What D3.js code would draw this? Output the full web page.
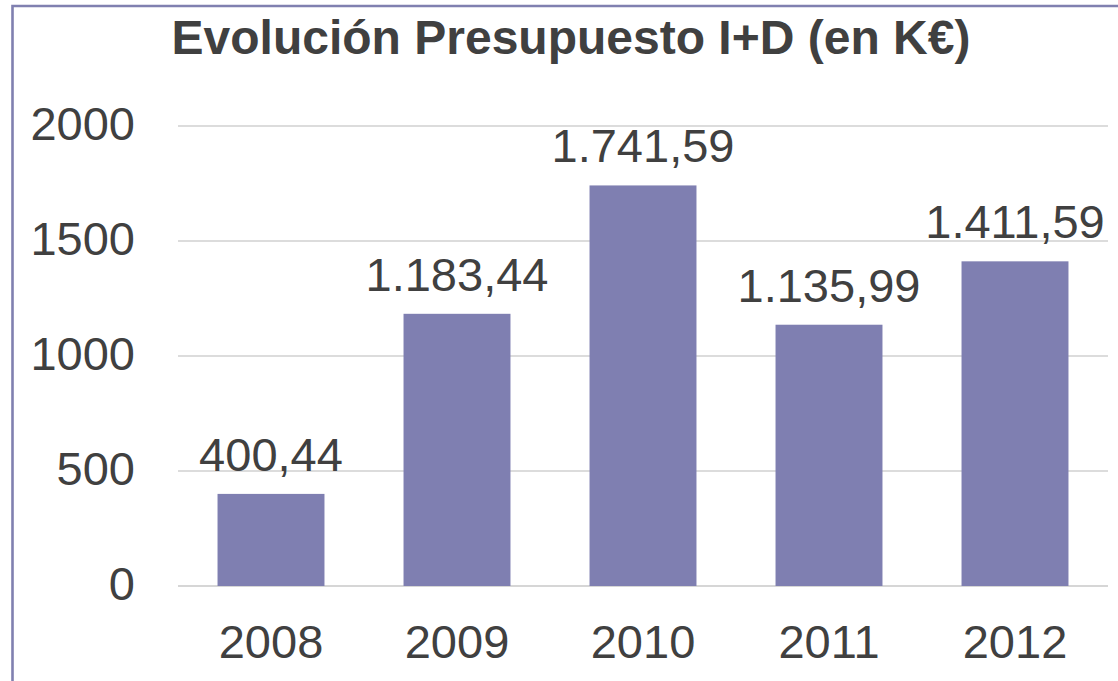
<!DOCTYPE html>
<html>
<head>
<meta charset="utf-8">
<script src="https://cdn.jsdelivr.net/npm/d3@7"></script>
<style>
  html, body { margin: 0; padding: 0; background: #ffffff; }
  svg { display: block; }
</style>
</head>
<body>
<svg id="chart" width="1118" height="681"></svg>
<script>
const title = "Evolución Presupuesto I+D (en K€)";
const categories = ["2008", "2009", "2010", "2011", "2012"];
const values = [400.44, 1183.44, 1741.59, 1135.99, 1411.59];
const valueLabels = ["400,44", "1.183,44", "1.741,59", "1.135,99", "1.411,59"];
const yTicks = [0, 500, 1000, 1500, 2000];

const W = 1118, H = 681;
const svg = d3.select("#chart");
const font = "'Liberation Sans', Arial, sans-serif";
const textColor = "#404040";

// frame
svg.append("path")
  .attr("d", `M12.5,${H} L12.5,6 L${W},6`)
  .attr("fill", "none")
  .attr("stroke", "#8080b0")
  .attr("stroke-width", 2.6);

const plot = { left: 178, right: 1108, top: 126, bottom: 586 };

const x = d3.scaleBand()
  .domain(categories)
  .range([plot.left, plot.right])
  .paddingInner(0.425)
  .paddingOuter(0.2125);

const y = d3.scaleLinear()
  .domain([0, 2000])
  .range([plot.bottom, plot.top]);

// gridlines
svg.append("g")
  .selectAll("line")
  .data(yTicks)
  .join("line")
  .attr("x1", plot.left)
  .attr("x2", plot.right)
  .attr("y1", d => y(d))
  .attr("y2", d => y(d))
  .attr("stroke", d => d === 0 ? "#c8c8c8" : "#d0d0d0")
  .attr("stroke-width", 1.5);

// y tick labels
svg.append("g")
  .selectAll("text")
  .data(yTicks)
  .join("text")
  .attr("x", 135)
  .attr("y", d => y(d) + 14)
  .attr("text-anchor", "end")
  .attr("font-family", font)
  .attr("font-size", 47)
  .attr("fill", textColor)
  .text(d => d);

// bars
svg.append("g")
  .selectAll("rect")
  .data(values)
  .join("rect")
  .attr("x", (d, i) => x(categories[i]))
  .attr("width", x.bandwidth())
  .attr("y", d => y(d))
  .attr("height", d => y(0) - y(d))
  .attr("fill", "#7f7fb1");

// value labels
svg.append("g")
  .selectAll("text")
  .data(values)
  .join("text")
  .attr("x", (d, i) => x(categories[i]) + x.bandwidth() / 2)
  .attr("y", d => y(d) - 23)
  .attr("text-anchor", "middle")
  .attr("font-family", font)
  .attr("font-size", 47)
  .attr("fill", textColor)
  .text((d, i) => valueLabels[i]);

// x labels
svg.append("g")
  .selectAll("text")
  .data(categories)
  .join("text")
  .attr("x", d => x(d) + x.bandwidth() / 2)
  .attr("y", 658)
  .attr("text-anchor", "middle")
  .attr("font-family", font)
  .attr("font-size", 47)
  .attr("fill", textColor)
  .text(d => d);

// title
svg.append("text")
  .attr("x", 571)
  .attr("y", 54)
  .attr("text-anchor", "middle")
  .attr("font-family", font)
  .attr("font-weight", "bold")
  .attr("font-size", 48)
  .attr("fill", textColor)
  .text(title);
</script>
</body>
</html>
